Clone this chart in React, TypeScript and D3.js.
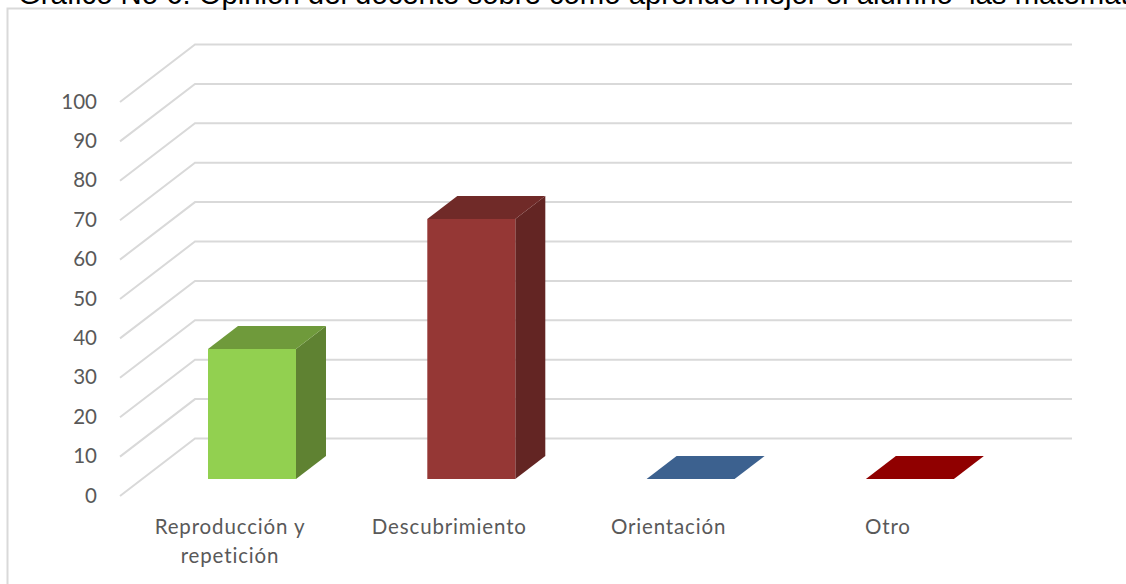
import React from "react";
import * as d3 from "d3";

const categories = [["Reproducción y", "repetición"], ["Descubrimiento"], ["Orientación"], ["Otro"]];
const values = [33, 66, 0, 0];
const frontColors = ["#92d050", "#953735", "#4f81bd", "#c00000"];
const sideColors = ["#5f8232", "#632523", "#34567e", "#800000"];
const topColors = ["#6f9a3b", "#702a28", "#3c618f", "#900000"];
const ticks = [0, 10, 20, 30, 40, 50, 60, 70, 80, 90, 100];
const titleText = "Gráfico No 6: Opinión del docente sobre cómo aprende mejor el alumno  las matemat";

const W = 1126, H = 584;
const depthX = 75, depthY = 57.5;
const barDepthX = 30, barDepthY = 23;

const yBack = d3.scaleLinear().domain([0, 100]).range([438.5, 44.5]);
const yFrontAxis = (v: number) => yBack(v) + depthY;
const yBarBase = 479;
const barH = (v: number) => yBack(0) - yBack(v);
const barX = d3.scaleLinear().domain([0, 1]).range([208, 427.3]);
const barW = 88;
const poly = (pts: [number, number][]) => pts.map((p) => p.join(",")).join(" ");
const font = "Lato, 'Open Sans', sans-serif";

export default function App() {
  return (
    <svg width={W} height={H} viewBox={`0 0 ${W} ${H}`} style={{ position: "fixed", left: 0, top: 0, background: "#fff", display: "block" }}>
      <path d="M7.5 584V8.5H1126" fill="none" stroke="#d9d9d9" strokeWidth={2} />
      <text x={18} y={4} style={{ whiteSpace: "pre" }} fontFamily="'Liberation Sans', Arial, sans-serif" fontSize={29.3} fill="#000">{titleText}</text>
      {ticks.map((t) => (
        <g key={t}>
          <polyline points={poly([[120, yFrontAxis(t)], [195, yBack(t)], [1072, yBack(t)]])} fill="none" stroke="#d9d9d9" strokeWidth={2} />
          <text x={97} y={yFrontAxis(t) + 1.5} textAnchor="end" dominantBaseline="middle" fontFamily={font} fontSize={20.5} fill="#595959">{t}</text>
        </g>
      ))}
      {values.map((v, i) => {
        const x0 = barX(i), x1 = x0 + barW, yB = yBarBase, yT = yBarBase - barH(v);
        return (
          <g key={i}>
            <polygon points={poly([[x1, yB], [x1 + barDepthX, yB - barDepthY], [x1 + barDepthX, yT - barDepthY], [x1, yT]])} fill={sideColors[i]} />
            <polygon points={poly([[x0, yT], [x0 + barDepthX, yT - barDepthY], [x1 + barDepthX, yT - barDepthY], [x1, yT]])} fill={topColors[i]} />
            {v > 0 && <rect x={x0} y={yT} width={barW} height={yB - yT} fill={frontColors[i]} />}
          </g>
        );
      })}
      {categories.map((lines, i) => (
        <text key={i} textAnchor="middle" fontFamily={font} fontSize={20.5} fill="#595959" letterSpacing={0.85}>
          {lines.map((l, j) => (
            <tspan key={j} x={barX(i) + 22} y={534 + j * 29}>{l}</tspan>
          ))}
        </text>
      ))}
    </svg>
  );
}
